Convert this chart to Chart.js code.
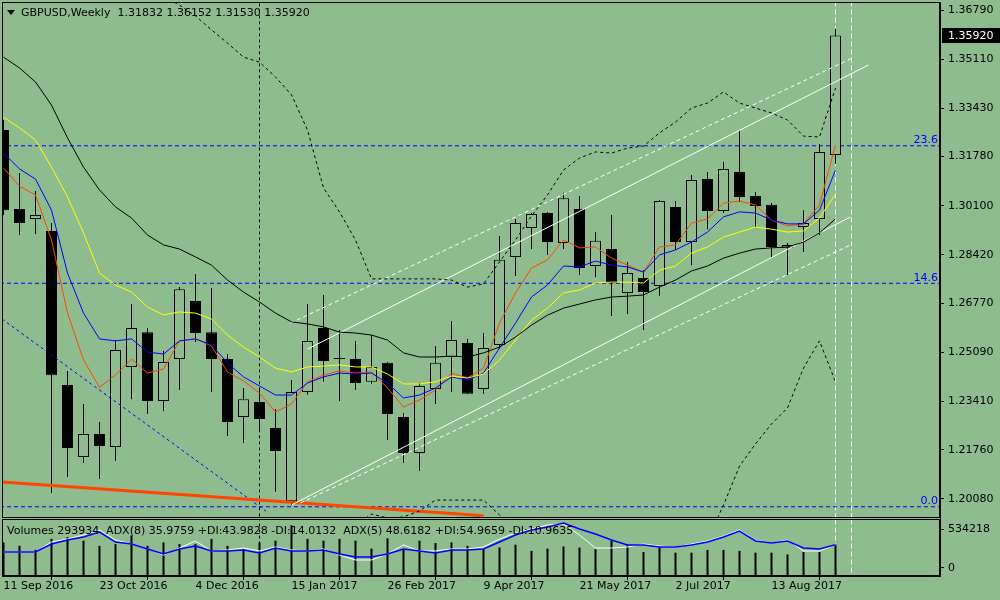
<!DOCTYPE html>
<html>
<head>
<meta charset="utf-8">
<script src="https://cdn.jsdelivr.net/npm/chart.js@4.4.1/dist/chart.umd.min.js"></script>
<style>
  html, body { margin: 0; padding: 0; background: #8fbc8f; }
  body { width: 1000px; height: 600px; position: relative; overflow: hidden;
         font-family: 'DejaVu Sans', sans-serif; font-size: 11px; color: #000; }
  canvas { position: absolute; left: 0; }
  #main { top: 0; }
  #sub { top: 512px; }
  .tri { position: absolute; left: 7px; top: 10px; width: 0; height: 0;
         border-left: 4px solid transparent; border-right: 4px solid transparent; border-top: 5px solid #000; }
  .hdr { position: absolute; left: 21px; top: 6px; line-height: 13px; white-space: pre; }
  .leg { position: absolute; left: 7px; top: 524px; line-height: 13px; white-space: pre; }
</style>
</head>
<body>
<canvas id="main" width="1000" height="520"></canvas>
<canvas id="sub" width="1000" height="88"></canvas>
<div class="tri"></div>
<div class="hdr">GBPUSD,Weekly  1.31832 1.36152 1.31530 1.35920</div>
<div class="leg">Volumes 293934  ADX(8) 35.9759 +DI:43.9828 -DI:14.0132  ADX(5) 48.6182 +DI:54.9659 -DI:10.9635</div>
<script>
// weekly bars, 11 Sep 2016 .. 10 Sep 2017
const weekTicks = [0, 6, 12, 18, 24, 30, 36, 42, 48];
const weekLabels = ['11 Sep 2016', '23 Oct 2016', '4 Dec 2016', '15 Jan 2017', '26 Feb 2017',
  '9 Apr 2017', '21 May 2017', '2 Jul 2017', '13 Aug 2017'];

const opens = [1.3269, 1.2999, 1.2965, 1.2924, 1.2397, 1.2151, 1.2230, 1.2185, 1.2459, 1.2578,
  1.2343, 1.2486, 1.2684, 1.2578, 1.2486, 1.2288, 1.2339, 1.2250, 1.2000, 1.2373,
  1.2592, 1.2486, 1.2486, 1.2408, 1.2473, 1.2288, 1.2165, 1.2384, 1.2493, 1.2541,
  1.2384, 1.2534, 1.2835, 1.2934, 1.2985, 1.2883, 1.2999, 1.2804, 1.2862, 1.2712,
  1.2763, 1.2736, 1.3006, 1.2886, 1.3101, 1.2992, 1.3125, 1.3043, 1.3013, 1.2866,
  1.2937, 1.2965, 1.31832];
const highs = [1.3303, 1.3122, 1.3060, 1.2951, 1.2445, 1.2332, 1.2271, 1.2551, 1.2674, 1.2592,
  1.2514, 1.2732, 1.2777, 1.2729, 1.2503, 1.2387, 1.2380, 1.2315, 1.2414, 1.2674,
  1.2705, 1.2585, 1.2548, 1.2568, 1.2476, 1.2302, 1.2404, 1.2531, 1.2616, 1.2555,
  1.2575, 1.2907, 1.2965, 1.2985, 1.2989, 1.3054, 1.3043, 1.2920, 1.2978, 1.2818,
  1.2790, 1.3030, 1.3026, 1.3115, 1.3125, 1.3160, 1.3269, 1.3057, 1.3019, 1.2883,
  1.2995, 1.3221, 1.36152];
const lows = [1.2978, 1.2910, 1.2913, 1.2028, 1.2083, 1.2131, 1.2076, 1.2138, 1.2349, 1.2298,
  1.2308, 1.2380, 1.2544, 1.2373, 1.2223, 1.2199, 1.2243, 1.2032, 1.1986, 1.2365,
  1.2408, 1.2343, 1.2380, 1.2401, 1.2209, 1.2131, 1.2103, 1.2332, 1.2373, 1.2367,
  1.2367, 1.2520, 1.2770, 1.2862, 1.2842, 1.2862, 1.2773, 1.2766, 1.2633, 1.2640,
  1.2585, 1.2702, 1.2859, 1.2807, 1.2930, 1.2985, 1.3023, 1.2937, 1.2831, 1.2773,
  1.2852, 1.2910, 1.31530];
const closes = [1.2995, 1.2951, 1.2978, 1.2431, 1.2182, 1.2230, 1.2189, 1.2517, 1.2592, 1.2343,
  1.2476, 1.2725, 1.2575, 1.2486, 1.2271, 1.2349, 1.2281, 1.2172, 1.2373, 1.2548,
  1.2479, 1.2488, 1.2404, 1.2459, 1.2298, 1.2165, 1.2394, 1.2473, 1.2551, 1.2367,
  1.2524, 1.2825, 1.2951, 1.2982, 1.2886, 1.3036, 1.2797, 1.2890, 1.2746, 1.2780,
  1.2715, 1.3026, 1.2886, 1.3098, 1.2992, 1.3136, 1.3040, 1.3009, 1.2869, 1.2876,
  1.2951, 1.3194, 1.35920];

// moving averages
const maRed = [1.3139, 1.3077, 1.3047, 1.2893, 1.2643, 1.2483, 1.2390, 1.2431, 1.2486, 1.2438,
  1.2452, 1.2548, 1.2555, 1.2531, 1.2442, 1.2411, 1.2370, 1.2305, 1.2332, 1.2408,
  1.2431, 1.2445, 1.2438, 1.2442, 1.2387, 1.2322, 1.2346, 1.2380, 1.2438, 1.2421,
  1.2455, 1.2609, 1.2712, 1.2797, 1.2825, 1.2893, 1.2866, 1.2869, 1.2831, 1.2807,
  1.2783, 1.2869, 1.2876, 1.2951, 1.2965, 1.3019, 1.3026, 1.3013, 1.2961, 1.2941,
  1.2948, 1.3013, 1.3218];
const maBlue = [1.3190, 1.3136, 1.3101, 1.2995, 1.2780, 1.2643, 1.2555, 1.2548, 1.2555, 1.2510,
  1.2503, 1.2548, 1.2555, 1.2534, 1.2473, 1.2425, 1.2394, 1.2363, 1.2363, 1.2404,
  1.2425, 1.2438, 1.2435, 1.2438, 1.2404, 1.2353, 1.2363, 1.2387, 1.2425, 1.2414,
  1.2438, 1.2524, 1.2609, 1.2698, 1.2739, 1.2804, 1.2801, 1.2821, 1.2807, 1.2801,
  1.2783, 1.2842, 1.2859, 1.2886, 1.2920, 1.2972, 1.2989, 1.2985, 1.2961, 1.2948,
  1.2948, 1.2995, 1.3132];
const maYellow = [1.3313, 1.3276, 1.3235, 1.3142, 1.3040, 1.2917, 1.2780, 1.2739, 1.2715, 1.2664,
  1.2637, 1.2647, 1.2643, 1.2623, 1.2568, 1.2527, 1.2493, 1.2455, 1.2442, 1.2459,
  1.2462, 1.2466, 1.2459, 1.2459, 1.2435, 1.2401, 1.2401, 1.2408, 1.2428, 1.2421,
  1.2435, 1.2483, 1.2551, 1.2619, 1.2660, 1.2712, 1.2722, 1.2746, 1.2749, 1.2749,
  1.2746, 1.2790, 1.2804, 1.2848, 1.2869, 1.2903, 1.2920, 1.2937, 1.2930, 1.2920,
  1.2924, 1.2968, 1.3050];
const maBlack = [1.3518, 1.3481, 1.3433, 1.3354, 1.3242, 1.3142, 1.3064, 1.3006, 1.2968, 1.2910,
  1.2876, 1.2862, 1.2835, 1.2807, 1.2756, 1.2715, 1.2681, 1.2643, 1.2613, 1.2606,
  1.2596, 1.2578, 1.2575, 1.2568, 1.2551, 1.2507, 1.2493, 1.2493, 1.2496, 1.2493,
  1.2507, 1.2527, 1.2561, 1.2602, 1.2636, 1.2660, 1.2674, 1.2688, 1.2698, 1.2701,
  1.2705, 1.2732, 1.2756, 1.2787, 1.2804, 1.2831, 1.2848, 1.2862, 1.2866, 1.2869,
  1.2886, 1.2917, 1.2965];

// envelope bands (null where off the visible range)
const bandUpper = [null, null, null, null, null, null, null, null, null, null,
  1.3724, 1.3696, 1.3659, 1.3611, 1.3566, 1.3518, 1.3501, 1.3450, 1.3389, 1.3269,
  1.3071, 1.2989, 1.2893, 1.2760, 1.2760, 1.2760, 1.2760, 1.2760, 1.2756, 1.2732,
  1.2743, 1.2818, 1.2893, 1.2975, 1.3047, 1.3132, 1.3173, 1.3194, 1.3190, 1.3207,
  1.3214, 1.3259, 1.3296, 1.3344, 1.3361, 1.3399, 1.3361, 1.3344, 1.3327, 1.3303,
  1.3248, 1.3245, 1.3412];
const bandLower = [null, null, null, null, null, null, null, null, null, null,
  null, null, null, null, null, null, null, null, null, null,
  null, null, 1.1919, 1.1956, 1.1943, 1.1946, 1.1967, 1.2004, 1.2004, 1.2004,
  1.2004, 1.1953, 1.1885, null, null, null, null, null, null, null,
  null, null, null, null, 1.1868, 1.1987, 1.2120, 1.2196, 1.2264, 1.2319,
  1.2455, 1.2548, 1.2408];

// drawn objects: [bar index, price]
const channelMid = [[18, 1.1987], [52.94, 1.2972]];
const channelMidDash = [[18.56, 1.1994], [52.94, 1.2876]];
const channelTop = [[19, 1.2520], [54.06, 1.3491]];
const channelTopDash = [[17.94, 1.2609], [53.06, 1.3515]];
const redTrend = [[-1, 1.2069], [30, 1.1950]];
const blueTrend = [[-1, 1.2659], [16.4, 1.1966]];
const vLinesBlack = [16];
const vLinesWhite = [52, 53];
const fibLabels = ['23.6', '14.6', '0.0'];
const fibPrices = [1.3215, 1.2745, 1.1981];
const priceTicks = [1.36790, 1.35110, 1.33430, 1.31780, 1.30100, 1.28420, 1.26770, 1.25090, 1.23410, 1.21760, 1.20080];

// lower window
const volumes = [315000, 283000, 245000, 348000, 364000, 331000, 283000, 299000, 380000, 283000,
  315000, 299000, 299000, 348000, 283000, 251000, 315000, 331000, 476000, 348000,
  331000, 348000, 331000, 257000, 354000, 251000, 331000, 309000, 315000, 283000,
  251000, 267000, 293000, 235000, 257000, 277000, 267000, 251000, 331000, 290000,
  225000, 267000, 219000, 219000, 245000, 245000, 235000, 219000, 219000, 203000,
  225000, 225000, 293934];
const adxBlue = [42.1, 42.1, 42.1, 56.1, 63.1, 68.4, 77.2, 59.6, 56.1, 47.4,
  38.6, 47.4, 52.6, 43.9, 43.9, 45.6, 40.3, 49.1, 43.9, 43.9,
  45.6, 38.6, 33.3, 33.3, 38.6, 47.4, 43.9, 40.3, 45.6, 45.6,
  47.4, 59.6, 71.9, 80.7, 85.9, 93.0, 82.4, 73.7, 63.1, 54.4,
  54.4, 50.9, 50.9, 54.4, 59.6, 68.4, 78.9, 61.4, 57.9, 61.4,
  49.1, 47.4, 54.97];
const adxWhite = [42.1, 42.1, 42.1, 59.6, 64.9, 71.9, 80.7, 63.1, 56.1, 47.4,
  36.8, 49.1, 61.4, 43.9, 45.6, 49.1, 43.9, 50.9, 45.6, 43.9,
  47.4, 36.8, 28.1, 28.1, 38.6, 54.4, 43.9, 43.9, 47.4, 47.4,
  50.9, 64.9, 75.4, 82.4, 89.5, 91.2, 71.9, 49.1, 49.1, 50.9,
  56.1, 52.6, 50.9, 56.1, 61.4, 70.2, 80.7, 63.1, 57.9, 63.1,
  43.9, 43.9, 54.4];
const volumeLabels = [0, 534218];

const BG = '#8fbc8f';
const FONT = { family: 'DejaVu Sans', size: 11 };
Chart.defaults.font.family = FONT.family;
Chart.defaults.font.size = FONT.size;
Chart.defaults.color = '#000';

const X_MIN = -0.09375, X_MAX = 58.53125;

const pts = arr => arr.map((v, i) => ({ x: i, y: v }));
const seg = arr => arr.map(p => ({ x: p[0], y: p[1] }));

function line(data, color, extra) {
  return Object.assign({ type: 'line', data, borderColor: color, borderWidth: 1,
    pointRadius: 0, tension: 0, order: 1 }, extra || {});
}

// keep the plot box where the terminal puts it: no room reserved for edge labels
function noEdgePad(s) {
  s.paddingTop = 0; s.paddingBottom = 0; s.paddingLeft = 0; s.paddingRight = 0;
}

const upBodies = [], downBodies = [];
opens.forEach((o, i) => {
  (closes[i] >= o ? upBodies : downBodies).push({ x: i, y: [o, closes[i]] });
});
const wicks = highs.map((h, i) => ({ x: i, y: [lows[i], h] }));

const frame = {
  id: 'frame',
  afterDraw(chart) {
    const { ctx, chartArea: a } = chart;
    ctx.save();
    ctx.strokeStyle = '#000';
    ctx.lineWidth = 1;
    ctx.strokeRect(a.left + 0.5, a.top + 0.5, a.width - 1, a.height - 1);
    ctx.restore();
  }
};

const mainLabels = {
  id: 'mainLabels',
  afterDraw(chart) {
    const { ctx, chartArea: a, scales: { y } } = chart;
    ctx.save();
    ctx.font = '11px "DejaVu Sans"';
    ctx.fillStyle = '#0000ff';
    ctx.textAlign = 'right';
    ctx.textBaseline = 'alphabetic';
    fibLabels.forEach((t, i) => ctx.fillText(t, a.right - 2, y.getPixelForValue(fibPrices[i]) - 2.5));
    const last = closes[closes.length - 1];
    const yp = Math.round(y.getPixelForValue(last));
    ctx.fillStyle = '#000';
    ctx.fillRect(a.right + 2, yp - 7, 58, 15);
    ctx.fillStyle = '#fff';
    ctx.textAlign = 'left';
    ctx.textBaseline = 'middle';
    ctx.fillText(last.toFixed(5), a.right + 8, yp + 1);
    ctx.restore();
  }
};

new Chart(document.getElementById('main'), {
  type: 'bar',
  data: {
    datasets: [
      { data: wicks, backgroundColor: '#000', barThickness: 1, grouped: false, order: 12, inflateAmount: 0 },
      { data: upBodies, backgroundColor: BG, borderColor: '#000', borderWidth: 1, borderSkipped: false,
        barThickness: 11, grouped: false, order: 11, minBarLength: 1, inflateAmount: 0 },
      { data: downBodies, backgroundColor: '#000', borderColor: '#000', borderWidth: 1, borderSkipped: false,
        barThickness: 11, grouped: false, order: 11, minBarLength: 1, inflateAmount: 0 },
      line(pts(maBlack), '#000'),
      line(pts(maYellow), '#ffff00'),
      line(pts(maBlue), '#0000ff'),
      line(pts(maRed), '#ff4500'),
      line(pts(bandUpper), '#000', { borderDash: [3, 3] }),
      line(pts(bandLower), '#000', { borderDash: [3, 3] }),
      line(seg(channelMid), '#ffffff'),
      line(seg(channelMidDash), '#ffffff', { borderDash: [4, 3] }),
      line(seg(channelTop), '#ffffff'),
      line(seg(channelTopDash), '#ffffff', { borderDash: [4, 3] }),
      line(seg(redTrend), '#ff4500', { borderWidth: 3 }),
      line(seg(blueTrend), '#0000ff', { borderDash: [3, 3] }),
      ...fibPrices.map(p => line([{ x: X_MIN - 1, y: p }, { x: X_MAX + 1, y: p }], '#0000ff', { borderDash: [4, 3], order: 13 })),
      ...vLinesBlack.map(v => line([{ x: v, y: 1.0 }, { x: v, y: 1.5 }], '#000', { borderDash: [3, 3], order: 13 })),
      ...vLinesWhite.map(v => line([{ x: v, y: 1.0 }, { x: v, y: 1.5 }], '#ffffff', { borderDash: [5, 3], order: 13 }))
    ]
  },
  options: {
    responsive: false,
    animation: false,
    events: [],
    layout: { padding: { left: 2, top: 2, bottom: 2, right: 0 } },
    plugins: { legend: { display: false }, tooltip: { enabled: false } },
    scales: {
      x: { type: 'linear', min: X_MIN, max: X_MAX, offset: false, display: false },
      y: {
        position: 'right', min: 1.19427, max: 1.37064,
        afterBuildTicks: s => { s.ticks = priceTicks.map(v => ({ value: v })); },
        afterFit: s => { s.width = 60; noEdgePad(s); },
        grid: { drawOnChartArea: false, drawTicks: true, tickLength: 4, color: '#000' },
        border: { display: true, color: '#000' },
        ticks: { autoSkip: false, padding: 4, color: '#000', font: FONT, callback: v => v.toFixed(5) }
      }
    }
  },
  plugins: [frame, mainLabels]
});

new Chart(document.getElementById('sub'), {
  type: 'bar',
  data: {
    datasets: [
      { data: pts(volumes), yAxisID: 'yv', backgroundColor: '#000', barThickness: 2, grouped: false, order: 5, inflateAmount: 0 },
      line(pts(adxWhite), '#ffffff', { yAxisID: 'ya', order: 2 }),
      line(pts(adxBlue), '#0000ff', { yAxisID: 'ya', borderWidth: 1.5, order: 1 }),
      ...vLinesBlack.map(v => line([{ x: v, y: -50 }, { x: v, y: 150 }], '#000', { yAxisID: 'ya', borderDash: [3, 3], order: 6 })),
      ...vLinesWhite.map(v => line([{ x: v, y: -50 }, { x: v, y: 150 }], '#ffffff', { yAxisID: 'ya', borderDash: [5, 3], order: 6 }))
    ]
  },
  options: {
    responsive: false,
    animation: false,
    events: [],
    layout: { padding: { left: 2, top: 7, bottom: 0, right: 0 } },
    plugins: { legend: { display: false }, tooltip: { enabled: false } },
    scales: {
      x: {
        type: 'linear', min: X_MIN, max: X_MAX, offset: false, position: 'bottom',
        afterBuildTicks: s => { s.ticks = weekTicks.map(v => ({ value: v })); },
        afterFit: s => { s.height = 24; noEdgePad(s); },
        grid: { drawOnChartArea: false, drawTicks: true, tickLength: 4, color: '#000' },
        border: { display: true, color: '#000' },
        ticks: { autoSkip: false, maxRotation: 0, align: 'start', padding: 0, color: '#000', font: FONT,
          callback: v => weekLabels[weekTicks.indexOf(v)] }
      },
      y: {
        position: 'right', min: -109584, max: 671198,
        afterBuildTicks: s => { s.ticks = volumeLabels.map(v => ({ value: v })); },
        afterFit: s => { s.width = 60; noEdgePad(s); },
        grid: { drawOnChartArea: false, drawTicks: true, tickLength: 4, color: '#000' },
        border: { display: true, color: '#000' },
        ticks: { autoSkip: false, padding: 4, color: '#000', font: FONT, callback: v => String(v) }
      },
      yv: { display: false, min: 0, max: 534218 },
      ya: { display: false, min: 0, max: 100 }
    }
  },
  plugins: [frame]
});
</script>
</body>
</html>
